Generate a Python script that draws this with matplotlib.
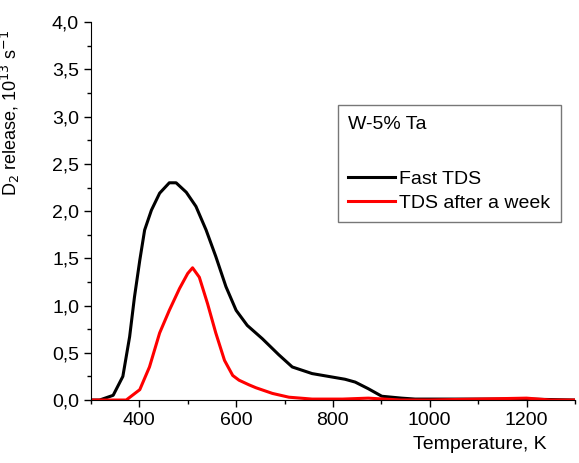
import numpy as np
import matplotlib
matplotlib.use("Agg")
import matplotlib.pyplot as plt
from matplotlib.ticker import MultipleLocator, FuncFormatter

plt.rcParams['font.family'] = ['Liberation Sans', 'DejaVu Sans']

# data (T in K, release in 1e13 s^-1)
t_fast = [300, 318, 346, 366, 380, 390, 401, 411, 425, 442, 462, 476, 497, 517,
          538, 558, 579, 600, 623, 654, 688, 716, 757, 791, 825, 846, 873, 901,
          942, 970, 1000, 1100, 1200, 1300]
d_fast = [0.0, 0.0, 0.05, 0.25, 0.67, 1.09, 1.48, 1.80, 2.01, 2.19, 2.30, 2.30, 2.20, 2.05,
          1.80, 1.52, 1.20, 0.95, 0.79, 0.65, 0.48, 0.35, 0.28, 0.25, 0.22, 0.19, 0.12, 0.04,
          0.02, 0.01, 0.01, 0.01, 0.01, 0.0]

t_week = [300, 331, 373, 401, 421, 442, 462, 483, 500, 510, 524, 541, 558, 576,
          593, 606, 627, 641, 675, 709, 757, 820, 873, 940, 1000, 1100, 1200, 1250, 1300]
d_week = [0.0, 0.0, 0.0, 0.11, 0.35, 0.71, 0.95, 1.18, 1.34, 1.40, 1.30, 1.02, 0.71, 0.42,
          0.26, 0.21, 0.16, 0.13, 0.07, 0.03, 0.01, 0.01, 0.02, 0.0, 0.0, 0.01, 0.02, 0.0, 0.0]

fig = plt.figure(figsize=(5.79, 4.63), dpi=100)
ax = fig.add_axes([0.157, 0.136, 0.836, 0.816])

ax.plot(t_fast, d_fast, color='black', lw=2.2, label='Fast TDS')
ax.plot(t_week, d_week, color='red', lw=2.2, label='TDS after a week')

ax.set_xlim(300, 1300)
ax.set_ylim(0, 4)
ax.xaxis.set_major_locator(MultipleLocator(200))
ax.xaxis.set_minor_locator(MultipleLocator(100))
ax.yaxis.set_major_locator(MultipleLocator(0.5))
ax.yaxis.set_minor_locator(MultipleLocator(0.25))
ax.yaxis.set_major_formatter(FuncFormatter(lambda v, p: ('%.1f' % v).replace('.', ',')))
ax.xaxis.set_major_formatter(FuncFormatter(lambda v, p: '' if v < 400 else '%d' % v))

ax.spines['top'].set_visible(False)
ax.spines['right'].set_visible(False)
ax.tick_params(which='major', direction='out', length=5, width=1, labelsize=14)
ax.tick_params(which='minor', direction='out', length=3, width=1)

ax.set_ylabel(r'D$_2$ release, 10$^{13}$ s$^{-1}$', fontsize=13)
ax.yaxis.set_label_coords(-0.143, 0.76)
ax.set_xlabel('Temperature, K', fontsize=14)
ax.xaxis.set_label_coords(0.804, -0.095)

leg = ax.legend(loc='upper left', bbox_to_anchor=(0.51, 0.78), title='W-5% Ta',
                fontsize=14, title_fontsize=14, frameon=True, fancybox=False,
                edgecolor='#555555', handlelength=2.4, handletextpad=0.2,
                borderpad=0.55, borderaxespad=0, labelspacing=0.3, alignment='left')
leg.get_frame().set_linewidth(1)
leg._legend_box.sep = 27

fig.savefig('out.png', dpi=100)
